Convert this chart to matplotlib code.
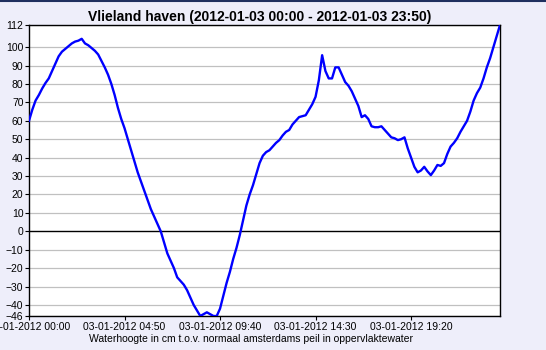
import matplotlib
matplotlib.use("Agg")
import matplotlib.pyplot as plt
from matplotlib.lines import Line2D

# waterhoogte elke 10 minuten, 2012-01-03 00:00 .. 23:50
level = [60, 66, 71, 74, 77.5, 80.5, 83, 87, 91, 95,
         97.5, 99, 100.5, 102, 103, 103.5, 104.5, 102, 101, 99.5,
         98, 96, 92.5, 89, 85, 80, 74, 67, 61, 56,
         50, 44, 38, 32, 27, 22, 17, 12, 8, 4,
         0, -6, -12, -16, -20, -25, -27, -29, -32, -36,
         -40, -43, -46, -45, -44, -45, -46, -46, -42, -35,
         -28, -22, -15, -9, -2, 6, 14, 20, 25, 31,
         37, 41, 43, 44, 46, 48, 49.5, 52, 54, 55,
         58, 60, 62, 62.5, 63, 66, 69, 73, 82, 95.6,
         87, 83, 83, 89, 89, 85, 81, 79, 76, 72,
         68, 62, 63, 61, 57, 56.5, 56.5, 57, 55, 53,
         51, 50.5, 49.5, 50, 51, 45, 40, 35, 32, 33,
         35, 32.5, 30.5, 33, 36, 35.5, 37, 42, 46, 48,
         50.5, 54, 57, 60, 65, 71, 75, 78, 83, 89,
         94, 100, 106, 112]
minutes = [10 * i for i in range(len(level))]

tick_minutes = [0, 290, 580, 870, 1160]
tick_labels = ["03-01-2012 00:00", "03-01-2012 04:50", "03-01-2012 09:40",
               "03-01-2012 14:30", "03-01-2012 19:20"]
y_ticks = [-46, -40, -30, -20, -10, 0, 10, 20, 30, 40, 50, 60, 70, 80, 90, 100, 112]

plt.rcParams['font.family'] = ['Liberation Sans', 'DejaVu Sans']

fig = plt.figure(figsize=(5.46, 3.5), dpi=100, facecolor='#EEEEFA')
ax = fig.add_axes([29 / 546, 34 / 350, 471 / 546, 291 / 350])
ax.set_facecolor('white')

for y in y_ticks:
    if y != 0:
        ax.axhline(y, color='#C0C0C0', lw=0.9, zorder=1)
ax.axhline(0, color='black', lw=1.0, zorder=2)

ax.plot(minutes, level, color='#0000FF', lw=1.7, zorder=3)

ax.set_xlim(0, minutes[-1])
ax.set_ylim(-46, 112)
ax.set_yticks(y_ticks)
ax.set_xticks(tick_minutes)
ax.set_xticklabels(tick_labels)
ax.tick_params(labelsize=7.5, length=3, width=0.8, pad=1, direction='out')

for s in ax.spines.values():
    s.set_linewidth(1.0)
    s.set_color('black')

ax.set_title("Vlieland haven (2012-01-03 00:00 - 2012-01-03 23:50)",
             fontsize=10, fontweight='bold', pad=3, x=0.49)
ax.set_xlabel("Waterhoogte in cm t.o.v. normaal amsterdams peil in oppervlaktewater",
              fontsize=7.5, labelpad=1)
ax.xaxis.set_label_coords(0.472, -0.062)

fig.add_artist(Line2D([0, 1], [0.997, 0.997], transform=fig.transFigure,
                      color='#1F2F5F', lw=1.5))

fig.savefig("out.png", dpi=100, facecolor=fig.get_facecolor())
